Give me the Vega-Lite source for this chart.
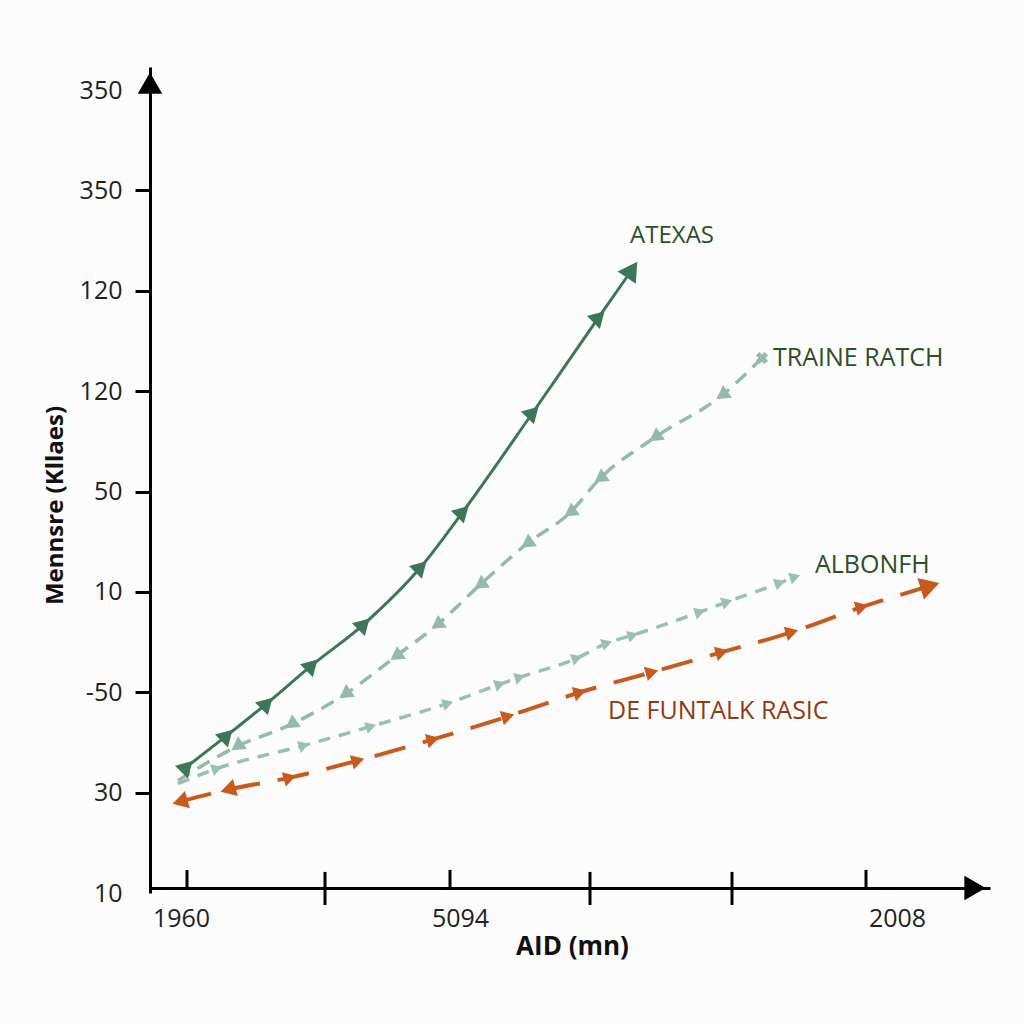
{
  "$schema": "https://vega.github.io/schema/vega-lite/v6.json",
  "width": 840,
  "height": 826,
  "autosize": {"type": "none"},
  "padding": {"left": 150, "top": 67, "right": 34, "bottom": 131},
  "background": "#fcfcfc",
  "config": {"view": {"stroke": null}, "font": "Open Sans"},
  "datasets": {
    "series": [
      {"s": "ATEXAS", "x": 37, "y": 1.26},
      {"s": "ATEXAS", "x": 77, "y": 1.57},
      {"s": "ATEXAS", "x": 117, "y": 1.89},
      {"s": "ATEXAS", "x": 162, "y": 2.27},
      {"s": "ATEXAS", "x": 214, "y": 2.68},
      {"s": "ATEXAS", "x": 271, "y": 3.25},
      {"s": "ATEXAS", "x": 313, "y": 3.8},
      {"s": "ATEXAS", "x": 383, "y": 4.79},
      {"s": "ATEXAS", "x": 449, "y": 5.74},
      {"s": "ATEXAS", "x": 482, "y": 6.21},
      {"s": "TRAINE RATCH", "x": 28, "y": 1.12},
      {"s": "TRAINE RATCH", "x": 87, "y": 1.46},
      {"s": "TRAINE RATCH", "x": 141, "y": 1.68},
      {"s": "TRAINE RATCH", "x": 195, "y": 1.98},
      {"s": "TRAINE RATCH", "x": 246, "y": 2.36},
      {"s": "TRAINE RATCH", "x": 287, "y": 2.67},
      {"s": "TRAINE RATCH", "x": 330, "y": 3.07},
      {"s": "TRAINE RATCH", "x": 377, "y": 3.48},
      {"s": "TRAINE RATCH", "x": 420, "y": 3.79},
      {"s": "TRAINE RATCH", "x": 450, "y": 4.13},
      {"s": "TRAINE RATCH", "x": 505, "y": 4.54},
      {"s": "TRAINE RATCH", "x": 572, "y": 4.96},
      {"s": "TRAINE RATCH", "x": 612, "y": 5.33},
      {"s": "ALBONFH", "x": 28, "y": 1.09},
      {"s": "ALBONFH", "x": 67, "y": 1.24},
      {"s": "ALBONFH", "x": 154, "y": 1.47},
      {"s": "ALBONFH", "x": 221, "y": 1.66},
      {"s": "ALBONFH", "x": 298, "y": 1.89},
      {"s": "ALBONFH", "x": 350, "y": 2.08},
      {"s": "ALBONFH", "x": 370, "y": 2.15},
      {"s": "ALBONFH", "x": 427, "y": 2.34},
      {"s": "ALBONFH", "x": 457, "y": 2.49},
      {"s": "ALBONFH", "x": 483, "y": 2.57},
      {"s": "ALBONFH", "x": 550, "y": 2.8},
      {"s": "ALBONFH", "x": 577, "y": 2.9},
      {"s": "ALBONFH", "x": 630, "y": 3.09},
      {"s": "ALBONFH", "x": 645, "y": 3.15},
      {"s": "DE FUNTALK RASIC", "x": 30, "y": 0.91},
      {"s": "DE FUNTALK RASIC", "x": 78, "y": 1.03},
      {"s": "DE FUNTALK RASIC", "x": 140, "y": 1.15},
      {"s": "DE FUNTALK RASIC", "x": 208, "y": 1.32},
      {"s": "DE FUNTALK RASIC", "x": 283, "y": 1.53},
      {"s": "DE FUNTALK RASIC", "x": 358, "y": 1.76},
      {"s": "DE FUNTALK RASIC", "x": 430, "y": 2.0},
      {"s": "DE FUNTALK RASIC", "x": 502, "y": 2.2},
      {"s": "DE FUNTALK RASIC", "x": 572, "y": 2.4},
      {"s": "DE FUNTALK RASIC", "x": 642, "y": 2.6},
      {"s": "DE FUNTALK RASIC", "x": 712, "y": 2.85},
      {"s": "DE FUNTALK RASIC", "x": 780, "y": 3.06}
    ],
    "labels": [
      {"s": "ATEXAS", "x": 522, "y": 6.55, "t": "ATEXAS"},
      {"s": "TRAINE RATCH", "x": 623, "y": 5.33, "t": "TRAINE RATCH"},
      {"s": "ALBONFH", "x": 665, "y": 3.27, "t": "ALBONFH"},
      {"s": "DE FUNTALK RASIC", "x": 458, "y": 1.81, "t": "DE FUNTALK RASIC"}
    ],
    "xticks": [
      {"x": 37, "kind": "short"},
      {"x": 175, "kind": "long"},
      {"x": 300, "kind": "short"},
      {"x": 440, "kind": "long"},
      {"x": 582, "kind": "long"},
      {"x": 716, "kind": "short"}
    ]
  },
  "layer": [
    {
      "data": {"name": "series"},
      "transform": [{"filter": "datum.s == 'ATEXAS'"}],
      "mark": {"type": "line", "color": "#3b7758", "strokeWidth": 3, "interpolate": "monotone"},
      "encoding": {
        "x": {
          "field": "x", "type": "quantitative",
          "scale": {"domain": [0, 840], "zero": false, "nice": false},
          "axis": {
            "values": [31, 310, 747],
            "labelExpr": "datum.value == 31 ? '1960' : datum.value == 310 ? '5094' : '2008'",
            "ticks": false,
            "grid": false,
            "offset": -5,
            "domainColor": "black",
            "domainWidth": 3,
            "labelFontSize": 25,
            "labelColor": "#222222",
            "labelPadding": 18,
            "labelFont": "Open Sans",
            "title": "AID (mn)",
            "titleFont": "Open Sans",
            "titleFontSize": 26,
            "titleFontWeight": "bold",
            "titleColor": "#111111",
            "titleX": 422,
            "titleY": 58,
            "titleAlign": "center",
            "titleBaseline": "middle"
          }
        },
        "y": {
          "field": "y", "type": "quantitative",
          "scale": {"domain": [0, 8.23], "zero": false, "nice": false},
          "axis": {
            "values": [0, 1, 2, 3, 4, 5, 6, 7, 8],
            "labelExpr": "['10','30','-50','10','50','120','120','350','350'][datum.value]",
            "grid": false,
            "domainColor": "black",
            "domainWidth": 3,
            "tickColor": "black",
            "tickWidth": 3,
            "tickSize": 15,
            "tickOpacity": {"condition": {"test": "datum.value == 0 || datum.value == 8", "value": 0}, "value": 1},
            "labelFontSize": 25,
            "labelColor": "#222222",
            "labelPadding": 13,
            "labelFont": "Open Sans",
            "title": "Mennsre (Kllaes)",
            "titleFont": "Open Sans",
            "titleFontSize": 24,
            "titleFontWeight": "bold",
            "titleColor": "#111111",
            "titleX": -95,
            "titleY": 438,
            "titleAngle": -90,
            "titleAlign": "center",
            "titleBaseline": "middle"
          }
        }
      }
    },
    {
      "data": {"name": "series"},
      "transform": [{"filter": "datum.s == 'TRAINE RATCH'"}],
      "mark": {"type": "line", "color": "#95b9ac", "strokeWidth": 3.5, "strokeDash": [14, 9], "interpolate": "monotone"},
      "encoding": {
        "x": {"field": "x", "type": "quantitative"},
        "y": {"field": "y", "type": "quantitative"}
      }
    },
    {
      "data": {"name": "series"},
      "transform": [{"filter": "datum.s == 'ALBONFH'"}],
      "mark": {"type": "line", "color": "#9cbfb3", "strokeWidth": 3.5, "strokeDash": [12, 9], "interpolate": "monotone"},
      "encoding": {
        "x": {"field": "x", "type": "quantitative"},
        "y": {"field": "y", "type": "quantitative"}
      }
    },
    {
      "data": {"name": "series"},
      "transform": [{"filter": "datum.s == 'DE FUNTALK RASIC'"}],
      "mark": {"type": "line", "color": "#c85a1e", "strokeWidth": 4, "strokeDash": [32, 18], "interpolate": "monotone"},
      "encoding": {
        "x": {"field": "x", "type": "quantitative"},
        "y": {"field": "y", "type": "quantitative"}
      }
    },
    {
      "data": {"name": "series"},
      "transform": [{"filter": "datum.s == 'ATEXAS' && datum.x < 480"}],
      "mark": {"type": "point", "shape": "triangle-up", "filled": true, "opacity": 1, "size": 330, "angle": 45, "color": "#3b7758"},
      "encoding": {
        "x": {"field": "x", "type": "quantitative"},
        "y": {"field": "y", "type": "quantitative"}
      }
    },
    {
      "data": {"name": "series"},
      "transform": [{"filter": "datum.s == 'ATEXAS' && datum.x >= 480"}],
      "mark": {"type": "point", "shape": "triangle-up", "filled": true, "opacity": 1, "size": 480, "angle": 34, "color": "#3b7758"},
      "encoding": {
        "x": {"field": "x", "type": "quantitative"},
        "y": {"field": "y", "type": "quantitative"}
      }
    },
    {
      "data": {"name": "series"},
      "transform": [{"filter": "datum.s == 'TRAINE RATCH' && datum.x > 50 && datum.x < 600"}],
      "mark": {"type": "point", "shape": "triangle-down", "filled": true, "opacity": 1, "size": 240, "angle": 55, "color": "#95b9ac"},
      "encoding": {
        "x": {"field": "x", "type": "quantitative"},
        "y": {"field": "y", "type": "quantitative"}
      }
    },
    {
      "data": {"name": "series"},
      "transform": [{"filter": "datum.s == 'TRAINE RATCH' && datum.x >= 600"}],
      "mark": {"type": "point", "shape": "cross", "filled": true, "opacity": 1, "size": 150, "angle": 45, "color": "#95b9ac"},
      "encoding": {
        "x": {"field": "x", "type": "quantitative"},
        "y": {"field": "y", "type": "quantitative"}
      }
    },
    {
      "data": {"name": "series"},
      "transform": [{"filter": "datum.s == 'ALBONFH' && datum.x > 50"}],
      "mark": {"type": "point", "shape": "triangle-up", "filled": true, "opacity": 1, "size": 150, "angle": 72, "color": "#9cbfb3"},
      "encoding": {
        "x": {"field": "x", "type": "quantitative"},
        "y": {"field": "y", "type": "quantitative"}
      }
    },
    {
      "data": {"name": "series"},
      "transform": [{"filter": "datum.s == 'DE FUNTALK RASIC' && datum.x > 100 && datum.x < 770"}],
      "mark": {"type": "point", "shape": "triangle-up", "filled": true, "opacity": 1, "size": 220, "angle": 74, "color": "#c85a1e"},
      "encoding": {
        "x": {"field": "x", "type": "quantitative"},
        "y": {"field": "y", "type": "quantitative"}
      }
    },
    {
      "data": {"name": "series"},
      "transform": [{"filter": "datum.s == 'DE FUNTALK RASIC' && datum.x < 100"}],
      "mark": {"type": "point", "shape": "triangle-up", "filled": true, "opacity": 1, "size": 320, "angle": 254, "color": "#c85a1e"},
      "encoding": {
        "x": {"field": "x", "type": "quantitative"},
        "y": {"field": "y", "type": "quantitative"}
      }
    },
    {
      "data": {"name": "series"},
      "transform": [{"filter": "datum.s == 'DE FUNTALK RASIC' && datum.x >= 770"}],
      "mark": {"type": "point", "shape": "triangle-up", "filled": true, "opacity": 1, "size": 500, "angle": 73, "color": "#c85a1e"},
      "encoding": {
        "x": {"field": "x", "type": "quantitative"},
        "y": {"field": "y", "type": "quantitative"}
      }
    },
    {
      "data": {"name": "xticks"},
      "transform": [{"filter": "datum.kind == 'short'"}],
      "mark": {"type": "rule", "color": "black", "strokeWidth": 3},
      "encoding": {
        "x": {"field": "x", "type": "quantitative"},
        "y": {"datum": 0.05, "type": "quantitative"},
        "y2": {"datum": 0.23}
      }
    },
    {
      "data": {"name": "xticks"},
      "transform": [{"filter": "datum.kind == 'long'"}],
      "mark": {"type": "rule", "color": "black", "strokeWidth": 3},
      "encoding": {
        "x": {"field": "x", "type": "quantitative"},
        "y": {"datum": -0.12, "type": "quantitative"},
        "y2": {"datum": 0.21}
      }
    },
    {
      "data": {"values": [{"a": "y"}]},
      "mark": {"type": "point", "shape": "triangle-up", "filled": true, "opacity": 1, "size": 600, "color": "black"},
      "encoding": {
        "x": {"datum": 0, "type": "quantitative"},
        "y": {"datum": 8.07, "type": "quantitative"}
      }
    },
    {
      "data": {"values": [{"a": "x"}]},
      "mark": {"type": "point", "shape": "triangle-right", "filled": true, "opacity": 1, "size": 600, "color": "black"},
      "encoding": {
        "x": {"datum": 825, "type": "quantitative"},
        "y": {"datum": 0.05, "type": "quantitative"}
      }
    },
    {
      "data": {"name": "labels"},
      "transform": [{"filter": "datum.s == 'ATEXAS'"}],
      "mark": {"type": "text", "align": "center", "baseline": "middle", "fontSize": 24, "font": "Open Sans", "color": "#2f4f26"},
      "encoding": {
        "x": {"field": "x", "type": "quantitative"},
        "y": {"field": "y", "type": "quantitative"},
        "text": {"field": "t"}
      }
    },
    {
      "data": {"name": "labels"},
      "transform": [{"filter": "datum.s == 'TRAINE RATCH' || datum.s == 'ALBONFH'"}],
      "mark": {"type": "text", "align": "left", "baseline": "middle", "fontSize": 25, "font": "Open Sans", "color": "#2f4f26"},
      "encoding": {
        "x": {"field": "x", "type": "quantitative"},
        "y": {"field": "y", "type": "quantitative"},
        "text": {"field": "t"}
      }
    },
    {
      "data": {"name": "labels"},
      "transform": [{"filter": "datum.s == 'DE FUNTALK RASIC'"}],
      "mark": {"type": "text", "align": "left", "baseline": "middle", "fontSize": 25, "font": "Open Sans", "color": "#8f3b14"},
      "encoding": {
        "x": {"field": "x", "type": "quantitative"},
        "y": {"field": "y", "type": "quantitative"},
        "text": {"field": "t"}
      }
    }
  ]
}
